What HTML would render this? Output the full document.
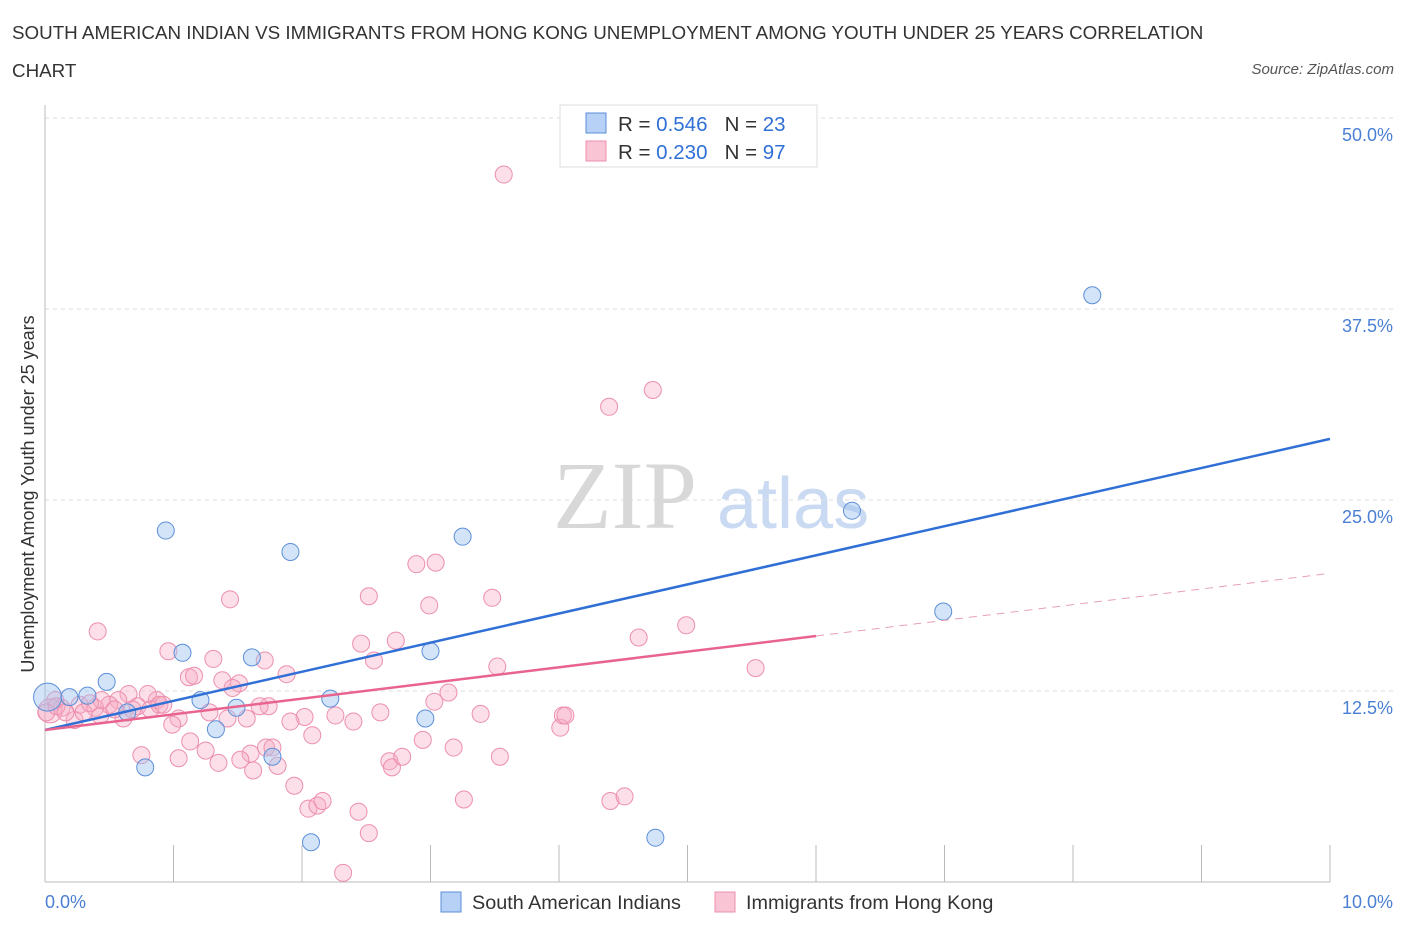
<!DOCTYPE html>
<html><head><meta charset="utf-8">
<style>
body{margin:0;background:#fff;font-family:"Liberation Sans",sans-serif;}
.t{position:absolute;left:12px;top:14px;font-size:18.8px;color:#333;line-height:38px;width:1210px}
.src{position:absolute;right:12px;top:61px;font-size:15px;color:#555;font-style:italic}
</style></head><body>
<div class="t">SOUTH AMERICAN INDIAN VS IMMIGRANTS FROM HONG KONG UNEMPLOYMENT AMONG YOUTH UNDER 25 YEARS CORRELATION CHART</div>
<div class="src">Source: ZipAtlas.com</div>
<svg id="c" width="1406" height="930" style="position:absolute;left:0;top:0"></svg>
<script>
const blueX=[0.02,0.19,0.33,0.48,0.64,0.94,1.07,1.21,1.33,1.49,1.61,1.77,1.91,2.07,2.22,2.96,3.00,3.25,4.75,6.28,6.99,8.15,0.78];
const blueY=[12.1,12.1,12.2,13.1,11.1,23.0,15.0,11.9,10.0,11.4,14.7,8.2,21.6,2.6,12.0,10.7,15.1,22.6,2.9,24.3,17.7,38.4,7.5];
const pinkX=[3.57,4.39,4.73,2.89,3.04,1.44,2.52,3.48,2.99,0.41,2.46,2.73,4.62,4.99,0.96,1.31,1.71,2.56,3.52,5.53,1.12,1.16,1.88,1.38,1.51,3.14,3.03,4.01,4.03,4.05,3.39,2.61,2.40,2.26,2.02,1.91,2.08,1.74,1.67,1.57,1.46,1.04,0.99,1.28,0.87,0.80,0.65,0.57,0.50,0.39,0.27,0.13,0.08,0.04,0.23,0.43,0.61,0.72,0.82,0.89,1.13,1.25,1.35,1.04,0.75,1.60,1.52,1.72,1.77,1.81,1.62,1.94,2.05,2.12,2.16,2.44,2.52,2.32,2.68,2.70,2.78,2.94,3.18,3.26,3.54,4.40,4.51,1.42,0.01,0.09,0.16,0.30,0.54,0.92,0.44,0.35,0.68];
const pinkY=[46.3,31.1,32.2,20.8,20.9,18.5,18.7,18.6,18.1,16.4,15.6,15.8,16.0,16.8,15.1,14.6,14.5,14.5,14.1,14.0,13.4,13.5,13.6,13.2,13.0,12.4,11.8,10.1,10.9,10.9,11.0,11.1,10.5,10.9,10.8,10.5,9.6,11.5,11.5,10.7,12.7,10.7,10.3,11.1,11.9,12.3,12.3,11.9,11.6,11.4,11.6,11.4,11.9,11.2,10.6,10.9,10.7,11.5,11.3,11.6,9.2,8.6,7.8,8.1,8.3,8.4,8.0,8.8,8.8,7.6,7.3,6.3,4.8,5.0,5.3,4.6,3.2,0.6,7.9,7.5,8.2,9.3,8.8,5.4,8.2,5.3,5.6,10.7,11.1,11.5,11.1,11.1,11.3,11.6,11.9,11.7,11.3];
const yTicks=[12.5,25.0,37.5,50.0];
const xTickLabels=["0.0%","10.0%"];
const blueLine=[9.95,29.0];      // y at x=0, y at x=10
const pinkLine=[9.95,16.1,20.2]; // y at x=0, x=6, x=10
const pinkSolidEnd=6.0;

const X0=45,X1=1330,Y0=882,Y50=118;
const sx=v=>X0+(X1-X0)*v/10;
const sy=v=>Y0-(Y0-Y50)*v/50;
const svg=document.getElementById('c');
const NS='http://www.w3.org/2000/svg';
function mk(t,a,p){const e=document.createElementNS(NS,t);for(const k in a)e.setAttribute(k,a[k]);(p||svg).appendChild(e);return e;}

let w=mk('text',{x:553,y:528,'font-size':96,fill:'#d8d8d8','font-family':'Liberation Serif, serif'});w.textContent='ZIP';


w=mk('text',{x:717,y:528,'font-size':72,fill:'#c9daf2','font-family':'Liberation Sans, sans-serif'});w.textContent='atlas';



yTicks.forEach(v=>{
 const g=mk('line',{x1:X0,x2:1395,y1:sy(v),y2:sy(v),stroke:'#dddddd','stroke-dasharray':'4,4'});
 
 
 const t=mk('text',{x:1393,y:sy(v)+23,'text-anchor':'end','font-size':18,fill:'#4a7fd4'});
 t.textContent=v.toFixed(1)+'%';
 
 
});
mk('line',{x1:X0,x2:X0,y1:105,y2:Y0,stroke:'#bbb'});
const xa=mk('line',{x1:X0,x2:X1,y1:Y0,y2:Y0,stroke:'#bbb'});


for(let i=1;i<=10;i++){const tk=mk('line',{x1:X0+i*128.5,x2:X0+i*128.5,y1:845,y2:Y0,stroke:'#bbb'});
 
 }
let tl=mk('text',{x:45,y:908,'font-size':18,fill:'#4a7fd4'});tl.textContent=xTickLabels[0];


tl=mk('text',{x:1393,y:908,'text-anchor':'end','font-size':18,fill:'#4a7fd4'});tl.textContent=xTickLabels[1];


const yt=mk('text',{x:0,y:0,'font-size':18,fill:'#333','text-anchor':'middle',transform:'translate(34,494) rotate(-90)'});
yt.textContent='Unemployment Among Youth under 25 years';



pinkX.forEach((x,i)=>{const c=mk('circle',{cx:sx(x),cy:sy(pinkY[i]),r:i==53?12:8.5,fill:'rgba(246,170,195,0.38)',stroke:'#ec8fae','stroke-width':1});
 
 });
blueX.forEach((x,i)=>{const c=mk('circle',{cx:sx(x),cy:sy(blueY[i]),r:i==0?14:8.5,fill:'rgba(160,195,240,0.45)',stroke:'#5b8fd8','stroke-width':1});
 
 });

let l=mk('line',{x1:sx(0),y1:sy(blueLine[0]),x2:sx(10),y2:sy(blueLine[1]),stroke:'#2f6fd6','stroke-width':2.5});


l=mk('line',{x1:sx(0),y1:sy(pinkLine[0]),x2:sx(pinkSolidEnd),y2:sy(pinkLine[1]),stroke:'#e8648f','stroke-width':2.5});


l=mk('line',{x1:sx(pinkSolidEnd),y1:sy(pinkLine[1]),x2:sx(10),y2:sy(pinkLine[2]),stroke:'#e8a0b8','stroke-width':1,'stroke-dasharray':'8,6'});



const lg=mk('g',{});


mk('rect',{x:560,y:105,width:257,height:62,fill:'#fff',stroke:'#ddd'},lg);
[['#b7d0f5','#5b8fd8','0.546','23',123],['#f9c5d5','#ec8fae','0.230','97',151]].forEach(r=>{
 mk('rect',{x:586,y:r[4]-10,width:20,height:20,fill:r[0],stroke:r[1]},lg);
 const t=mk('text',{x:618,y:r[4]+8,'font-size':20.5,fill:'#333'},lg);
 t.innerHTML='R = <tspan fill="#2f6fd6">'+r[2]+'</tspan>&#160;&#160;&#160;N = <tspan fill="#2f6fd6">'+r[3]+'</tspan>';
});
[['#b7d0f5','#5b8fd8','South American Indians',441],['#f9c5d5','#ec8fae','Immigrants from Hong Kong',715]].forEach(r=>{
 const g=mk('g',{});
 
 
 mk('rect',{x:r[3],y:892,width:20,height:20,fill:r[0],stroke:r[1]},g);
 const t=mk('text',{x:r[3]+31,y:909,'font-size':19.8,fill:'#333'},g);t.textContent=r[2];
});
</script>
</body></html>
